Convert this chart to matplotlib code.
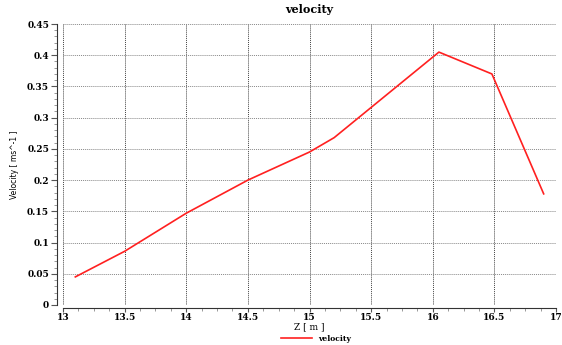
import numpy as np
import matplotlib
matplotlib.use('Agg')
import matplotlib.pyplot as plt
from matplotlib.ticker import MultipleLocator, AutoMinorLocator

z = [13.1, 13.5, 14.0, 14.5, 15.0, 15.2, 16.05, 16.48, 16.9]
velocity = [0.045, 0.086, 0.147, 0.200, 0.245, 0.268, 0.405, 0.370, 0.178]

plt.rcParams['font.family'] = 'DejaVu Serif'
plt.rcParams['font.weight'] = 'bold'
plt.rcParams['font.size'] = 6.5

fig = plt.figure(figsize=(5.62, 3.45), dpi=100)
ax = fig.add_axes([63 / 562, 1 - 305 / 345, (556 - 63) / 562, (305 - 24) / 345])

ax.plot(z, velocity, color='#ff2020', lw=1.2, label='velocity')

ax.set_xlim(13, 17)
ax.set_ylim(0, 0.45)
ax.xaxis.set_major_locator(MultipleLocator(0.5))
ax.yaxis.set_major_locator(MultipleLocator(0.05))
ax.xaxis.set_minor_locator(AutoMinorLocator(4))
ax.yaxis.set_minor_locator(AutoMinorLocator(5))
ax.set_xticklabels([f'{v:g}' for v in ax.get_xticks()])
ax.set_yticklabels([f'{v:g}' for v in ax.get_yticks()])

ax.grid(True, which='major', axis='x', color='#444444', linestyle=(0, (1, 1)), lw=0.7)
ax.grid(True, which='major', axis='y', color='#888888', linestyle=(0, (1, 1)), lw=0.7)
for s in ['top', 'right']:
    ax.spines[s].set_visible(False)
ax.spines['left'].set_position(('outward', 4))
ax.spines['bottom'].set_position(('outward', 2))
for s in ['left', 'bottom']:
    ax.spines[s].set_color('#333333')
ax.tick_params(which='major', length=4, color='#555555', pad=2)
ax.tick_params(which='minor', length=2, color='#888888')
ax.tick_params(axis='x', which='major', length=3, pad=1)

ax.set_title('velocity', fontsize=8, fontweight='bold', pad=8)
ax.set_xlabel('Z [ m ]')
ax.xaxis.set_label_coords(0.5, -0.063)
ax.set_ylabel('Velocity [ ms^-1 ]', fontsize=5.5, family='DejaVu Sans', labelpad=6)
fig.legend(*ax.get_legend_handles_labels(), loc='center',
           bbox_to_anchor=(316 / 562, 1 - 339 / 345), frameon=False,
           fontsize=5.5, handlelength=4, borderpad=0)

fig.savefig('out.png', dpi=100)
